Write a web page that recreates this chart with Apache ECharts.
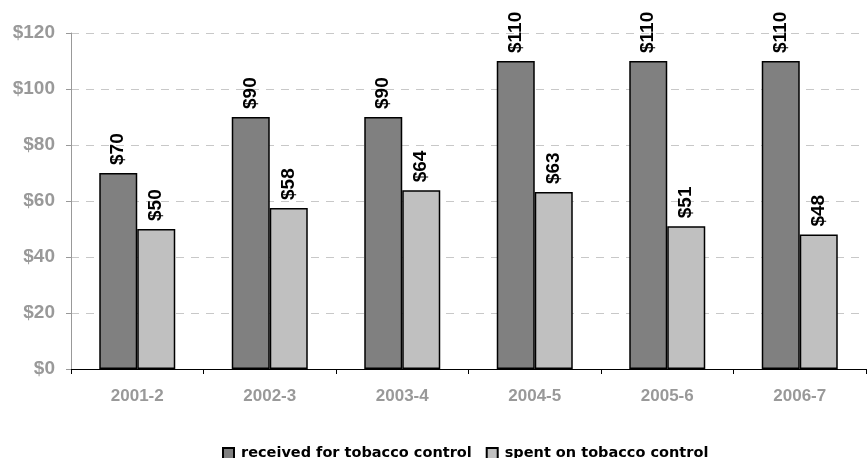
<!DOCTYPE html>
<html>
<head>
<meta charset="utf-8">
<style>
  html, body { margin: 0; padding: 0; background: #fff; }
  #chart { width: 867px; height: 458px; }
</style>
</head>
<body>
<div id="chart"></div>
<script src="https://cdn.jsdelivr.net/npm/echarts@6/dist/echarts.min.js"></script>
<script>
var years = ['2001-2', '2002-3', '2003-4', '2004-5', '2005-6', '2006-7'];
var received = [70, 90, 90, 110, 110, 110];
var spent = [50, 57.5, 63.8, 63.2, 51, 48];

var myChart = echarts.init(document.getElementById('chart'));

var barLabel = {
    show: true,
    position: 'top',
    rotate: 90,
    align: 'left',
    verticalAlign: 'middle',
    distance: 8,
    color: '#000',
    fontFamily: 'Liberation Sans',
    fontWeight: 'bold',
    fontSize: 19,
    formatter: function (p) { return '$' + Math.round(p.value); }
};

var option = {
    animation: false,
    grid: { left: 71, top: 33, right: 1, bottom: 89 },
    legend: {
        top: 446,
        left: 222,
        padding: 0,
        itemWidth: 11,
        itemHeight: 11,
        itemGap: 14,
        icon: 'rect',
        textStyle: { fontFamily: 'DejaVu Sans', fontWeight: 'bold', fontSize: 14.5, color: '#000', padding: [0, 0, 0, 2] },
        data: ['received for tobacco control', 'spent on tobacco control']
    },
    xAxis: {
        type: 'category',
        data: years,
        axisLine: { lineStyle: { color: '#000', width: 1 } },
        axisTick: { show: true, length: 5, lineStyle: { color: '#000' } },
        axisLabel: { color: '#999', fontFamily: 'Liberation Sans', fontWeight: 'bold', fontSize: 17, margin: 19 }
    },
    yAxis: {
        type: 'value',
        min: 0,
        max: 120,
        interval: 20,
        axisLine: { show: true, lineStyle: { color: '#999' } },
        axisTick: { show: true, length: 5, lineStyle: { color: '#999' } },
        axisLabel: {
            color: '#999', fontFamily: 'Liberation Sans', fontWeight: 'bold', fontSize: 19, margin: 16,
            formatter: function (v) { return '$' + v; }
        },
        splitLine: { lineStyle: { color: '#c8c8c8', type: [8, 7] } }
    },
    series: [{
        name: 'received for tobacco control',
        type: 'bar',
        data: received,
        barWidth: 38,
        barGap: '0%',
        itemStyle: { color: '#808080', borderColor: '#000', borderWidth: 1.5 },
        label: barLabel
    }, {
        name: 'spent on tobacco control',
        type: 'bar',
        data: spent,
        barWidth: 38,
        barGap: '0%',
        itemStyle: { color: '#c0c0c0', borderColor: '#000', borderWidth: 1.5 },
        label: barLabel
    }]
};
myChart.setOption(option);
</script>
</body>
</html>
